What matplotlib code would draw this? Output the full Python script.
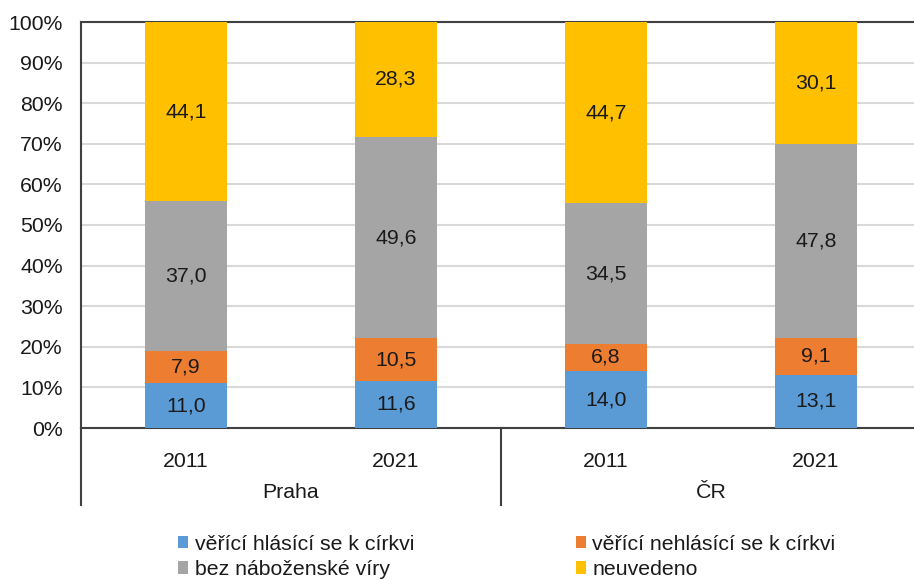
import matplotlib
matplotlib.use("Agg")
import matplotlib.pyplot as plt
import numpy as np

plt.rcParams["font.family"] = ["Liberation Sans", "DejaVu Sans"]

groups = ["Praha", "ČR"]
years = ["2011", "2021", "2011", "2021"]
series_names = [
    "věřící hlásící se k církvi",
    "věřící nehlásící se k církvi",
    "bez náboženské víry",
    "neuvedeno",
]
veruci_hlasici = [11.0, 11.6, 14.0, 13.1]
veruci_nehlasici = [7.9, 10.5, 6.8, 9.1]
bez_viry = [37.0, 49.6, 34.5, 47.8]
neuvedeno = [44.1, 28.3, 44.7, 30.1]
colors = ["#5B9BD5", "#ED7D31", "#A5A5A5", "#FFC000"]

TEXT = "#1a1a1a"
FS = 15.3

fig = plt.figure(figsize=(9.14, 5.8), dpi=100)
ax = fig.add_axes([81 / 914, 1 - 428 / 580, 840 / 914, 406 / 580])

x = np.arange(len(years))
bottom = np.zeros(len(years))
containers = []
for name, vals, col in zip(series_names, [veruci_hlasici, veruci_nehlasici, bez_viry, neuvedeno], colors):
    vals = np.array(vals)
    bars = ax.bar(x, vals, bottom=bottom, width=0.395, color=col, label=name, zorder=3)
    ax.bar_label(bars, labels=[f"{v:.1f}".replace(".", ",") for v in vals],
                 label_type="center", fontsize=FS, color=TEXT)
    containers.append(bars)
    bottom += vals

ax.set_xlim(-0.5, 3.5)
ax.set_ylim(0, 100)
ax.set_yticks(range(0, 101, 10))
ax.set_yticklabels([f"{v}%" for v in range(0, 101, 10)], fontsize=FS, color=TEXT)
ax.set_xticks(x)
ax.set_xticklabels(years, fontsize=FS, color=TEXT)
ax.tick_params(axis="both", length=0)
ax.tick_params(axis="x", pad=17)
ax.tick_params(axis="y", pad=13)
ax.grid(axis="y", color="#D9D9D9", linewidth=1.5, zorder=0)
ax.set_axisbelow(True)

for s in ["left", "top", "bottom"]:
    ax.spines[s].set_color("#404040")
    ax.spines[s].set_linewidth(1.5)
ax.spines["right"].set_visible(False)

trans = ax.get_xaxis_transform()
low = -(505 - 428) / 406
for xs in [-0.5, 1.5]:
    ax.plot([xs, xs], [0, low], transform=trans, color="#404040", lw=1.5, clip_on=False)

for gi, g in enumerate(groups):
    ax.text(gi * 2 + 0.5, -(492 - 428) / 406, g, transform=trans, ha="center", va="center",
            fontsize=FS, color=TEXT)

order = [0, 2, 1, 3]
fig.legend([containers[i] for i in order], [series_names[i] for i in order], ncol=2,
           loc="upper left", bbox_to_anchor=(167 / 914, 1 - 524 / 580), frameon=False,
           borderpad=0, handlelength=0.5, handleheight=0.5, handletextpad=0.3,
           columnspacing=7.6, labelspacing=0.3, prop={"size": FS}, labelcolor=TEXT)

fig.savefig("out.png", dpi=100)
